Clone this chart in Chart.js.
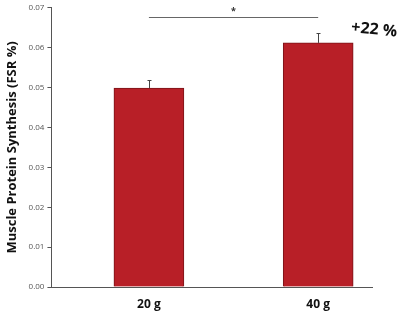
<!DOCTYPE html>
<html><head><meta charset="utf-8">
<script src="https://cdn.jsdelivr.net/npm/chart.js@4"></script>
<style>html,body{margin:0;padding:0;background:#fff}#w{width:400px;height:314px}</style>
</head><body><div id="w"><canvas id="c" width="400" height="314"></canvas></div>
<script>
const categories = ['20 g', '40 g'];
const values = [0.0499, 0.0612];
const errorsUp = [0.0019, 0.0025];
const yTicks = [0, 0.01, 0.02, 0.03, 0.04, 0.05, 0.06, 0.07];
const sigLevel = 0.0678;
const sigText = '*';
const changeText = '+22 %';

const positions = categories.map((c, i) => i + 1);

const overlay = {
  id: 'overlay',
  afterDatasetsDraw(chart) {
    const {ctx, scales: {x, y}} = chart;
    ctx.save();
    ctx.strokeStyle = '#444'; ctx.lineWidth = 1;
    positions.forEach((p, i) => {
      const px = Math.round(x.getPixelForValue(p)) + 0.5;
      const y0 = y.getPixelForValue(values[i]);
      const y1 = Math.round(y.getPixelForValue(values[i] + errorsUp[i])) + 0.5;
      ctx.beginPath(); ctx.moveTo(px, y0); ctx.lineTo(px, y1);
      ctx.moveTo(px - 2, y1); ctx.lineTo(px + 2, y1); ctx.stroke();
    });
    const sy = Math.round(y.getPixelForValue(sigLevel)) + 0.5;
    const sx0 = x.getPixelForValue(positions[0]);
    const sx1 = x.getPixelForValue(positions[1]);
    ctx.strokeStyle = '#666';
    ctx.beginPath(); ctx.moveTo(sx0, sy); ctx.lineTo(sx1, sy); ctx.stroke();
    ctx.fillStyle = '#333';
    ctx.font = 'bold 9px "Open Sans"';
    ctx.textAlign = 'center'; ctx.textBaseline = 'bottom';
    ctx.fillText(sigText, (sx0 + sx1) / 2, sy - 2);
    ctx.translate(x.getPixelForValue(positions[1]) + 56, y.getPixelForValue(0.0645));
    ctx.rotate(0.1);
    ctx.fillStyle = '#111';
    ctx.font = 'bold 16px "Open Sans"';
    ctx.textBaseline = 'middle';
    ctx.fillText(changeText, 0, 0);
    ctx.restore();
  }
};

new Chart(document.getElementById('c'), {
  type: 'bar',
  data: {
    datasets: [{
      data: positions.map((p, i) => ({x: p, y: values[i]})),
      backgroundColor: '#b81f27',
      borderColor: '#7a1418',
      borderWidth: 1,
      borderSkipped: 'bottom',
      barThickness: 70
    }]
  },
  options: {
    responsive: false,
    animation: false,
    layout: {padding: {top: 3, right: 28, left: 4, bottom: 0}},
    plugins: {legend: {display: false}, tooltip: {enabled: false}},
    scales: {
      x: {
        type: 'linear',
        offset: false,
        min: 0.424, max: 2.318,
        afterBuildTicks(s) { s.ticks = positions.map(v => ({value: v})); },
        afterFit(s) { s.height = 27; },
        ticks: {
          callback: (v) => categories[positions.indexOf(v)] || '',
          color: '#111', font: {family: 'Open Sans', size: 12, weight: 'bold'}, padding: 10
        },
        grid: {drawOnChartArea: false, drawTicks: false, offset: false},
        border: {color: '#555', width: 1}
      },
      y: {
        min: 0, max: 0.07,
        afterBuildTicks(s) { s.ticks = yTicks.map(v => ({value: v})); },
        ticks: {
          callback: (v) => v.toFixed(2),
          color: '#555', font: {family: 'Open Sans', size: 8}, padding: 3
        },
        grid: {drawOnChartArea: false, drawTicks: true, tickLength: 4, color: '#555'},
        border: {color: '#555', width: 1},
        title: {display: true, text: 'Muscle Protein Synthesis (FSR %)', color: '#111',
          font: {family: 'Open Sans', size: 13, weight: 'bold'}, padding: {top: 0, bottom: 6}}
      }
    }
  },
  plugins: [overlay]
});
</script></body></html>
